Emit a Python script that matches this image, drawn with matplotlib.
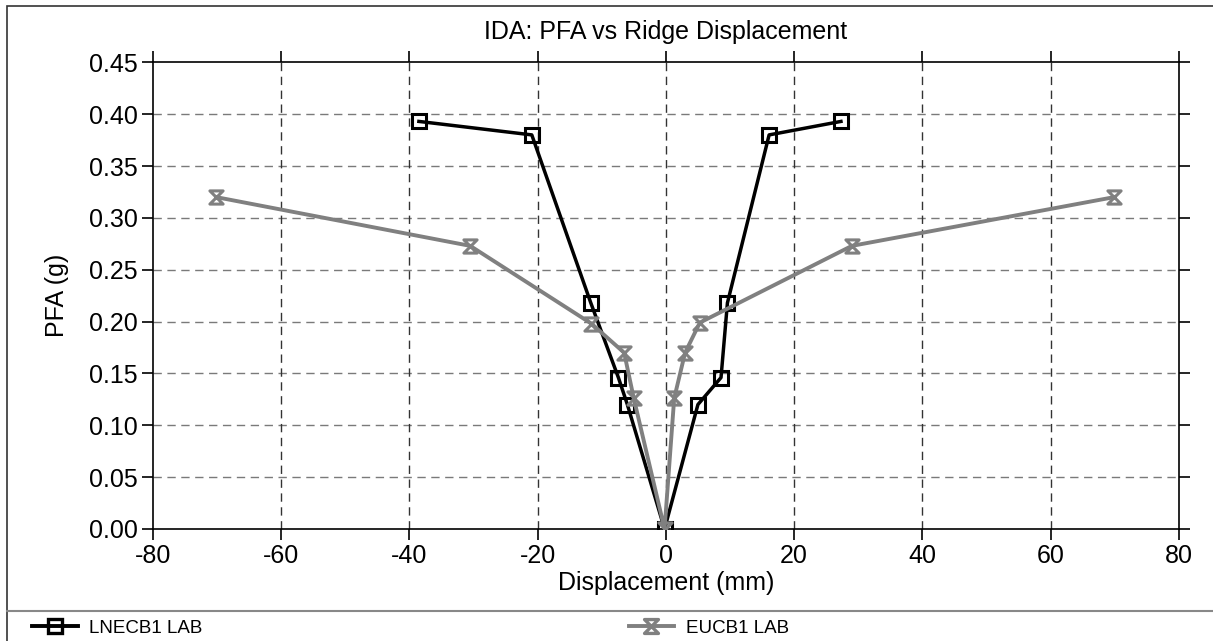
import matplotlib
matplotlib.use("Agg")
import matplotlib.pyplot as plt
from matplotlib.path import Path
from matplotlib.lines import Line2D
from matplotlib.patches import Rectangle

plt.rcParams['font.family'] = ['Liberation Sans', 'DejaVu Sans']
plt.rcParams['axes.unicode_minus'] = False

# Data
lnec_x = [-38.5, -20.9, -11.7, -7.4, -6.0, -0.2, 5.0, 8.6, 9.6, 16.1, 27.3]
lnec_y = [0.393, 0.380, 0.218, 0.146, 0.120, 0.0, 0.120, 0.146, 0.218, 0.380, 0.393]
eucb_x = [-70.1, -30.5, -11.6, -6.5, -5.0, -0.2, 1.3, 3.0, 5.3, 29.0, 69.9]
eucb_y = [0.320, 0.273, 0.198, 0.170, 0.126, 0.0, 0.126, 0.170, 0.199, 0.273, 0.320]
xticks = [-80, -60, -40, -20, 0, 20, 40, 60, 80]
yticks = [0.00, 0.05, 0.10, 0.15, 0.20, 0.25, 0.30, 0.35, 0.40, 0.45]
series_names = ["LNECB1 LAB", "EUCB1 LAB"]

W, H = 1213, 641
fig = plt.figure(figsize=(W / 100, H / 100), dpi=100)
ax = fig.add_axes([152.7 / W, 1 - 529 / H, (1179 - 152.7) / W, (529 - 62.3) / H])

hourglass = Path([(-1, 1), (1, 1), (-1, -1), (1, -1), (-1, 1)],
                 [Path.MOVETO, Path.LINETO, Path.LINETO, Path.LINETO, Path.CLOSEPOLY])

black = '#000000'
gray = '#808080'

l1, = ax.plot(lnec_x, lnec_y, color=black, lw=2.5, marker='s', ms=10,
              mfc='none', mec=black, mew=2.2, zorder=3)
l2, = ax.plot(eucb_x, eucb_y, color=gray, lw=2.8, marker=hourglass, ms=9.5,
              mfc='none', mec=gray, mew=2.2, zorder=4)

ax.set_xlim(-80, 80)
ax.set_ylim(0, 0.45)
ax.set_xticks(xticks)
ax.set_yticks(yticks)
ax.set_yticklabels([f"{v:.2f}" for v in yticks])
ax.tick_params(axis='both', which='both', direction='out', length=8, width=1.2,
               labelsize=18, top=True, right=True, pad=3)

for v in yticks[1:-1]:
    ax.axhline(v, color='#7a7a7a', lw=1.0, ls=(0, (6, 4)), zorder=1)
for v in xticks[1:-1]:
    ax.axvline(v, color='#333333', lw=1.0, ls=(0, (6, 4)), zorder=1)

for s in ax.spines.values():
    s.set_linewidth(1.2)
    s.set_color('black')

ax.set_title("IDA: PFA vs Ridge Displacement", fontsize=18, pad=17)
ax.set_xlabel("Displacement (mm)", fontsize=18, labelpad=2)
ax.set_ylabel("PFA (g)", fontsize=18, labelpad=14)

# Outer frame and separator
fig.add_artist(Rectangle((7 / W, -0.01), 1.1, 1 - 6 / H + 0.01, transform=fig.transFigure,
                         fill=False, ec='#333333', lw=1.2))
fig.add_artist(Line2D([7 / W, 1], [1 - 611 / H, 1 - 611 / H], transform=fig.transFigure,
                      color='#888888', lw=1.5))

h1 = Line2D([], [], color=black, lw=2.8, marker='s', ms=10, mfc='none', mec=black, mew=2.4)
h2 = Line2D([], [], color=gray, lw=2.8, marker=hourglass, ms=10, mfc='none', mec=gray, mew=2.4)
leg_kw = dict(loc='center left', frameon=False, fontsize=13.5, handlelength=2.45,
              handletextpad=0.6, borderaxespad=0, borderpad=0.4)
leg1 = fig.legend([h1], [series_names[0]], bbox_to_anchor=(24.5 / W, 1 - 628 / H), **leg_kw)
leg2 = fig.legend([h2], [series_names[1]], bbox_to_anchor=(621 / W, 1 - 628 / H), **leg_kw)

fig.savefig("out.png", dpi=100)
